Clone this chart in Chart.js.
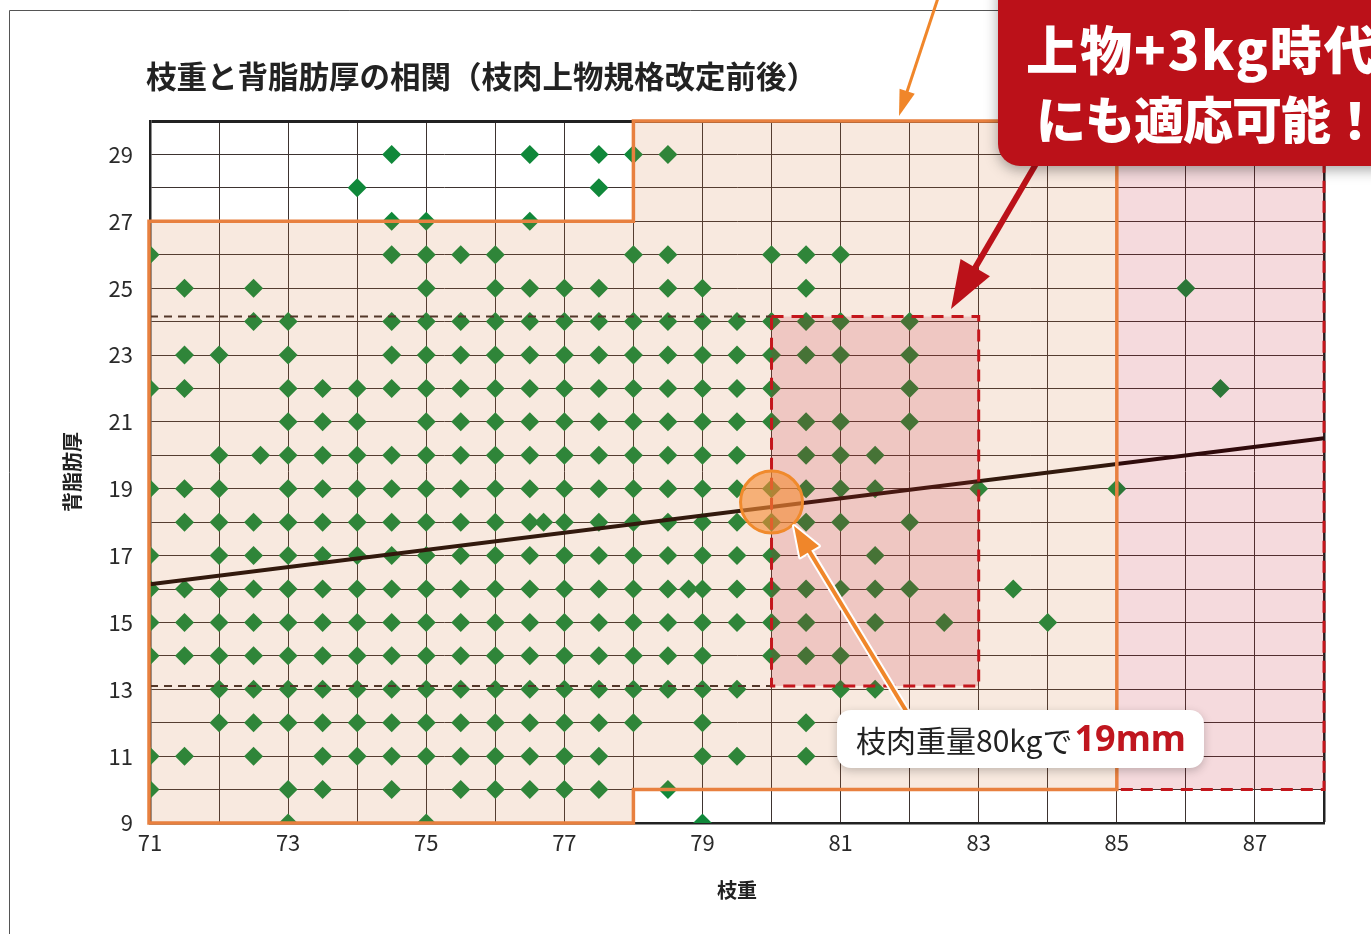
<!DOCTYPE html>
<html lang="ja">
<head>
<meta charset="utf-8">
<title>枝重と背脂肪厚の相関</title>
<script src="https://cdn.jsdelivr.net/npm/chart.js@4.4.1/dist/chart.umd.min.js"></script>
<style>
  html, body { margin: 0; padding: 0; background: #fff; }
  #wrap { width: 1371px; height: 934px; }
</style>
</head>
<body>
<div id="wrap"><canvas id="myChart" width="1371" height="934"></canvas></div>
<script>
// 背脂肪厚(mm)の段ごとに、その段にある枝重(kg)
const fatLevels = [29, 28, 27, 26, 25, 24, 23, 22, 21, 20, 19, 18, 17, 16, 15, 14, 13, 12, 11, 10, 9];
const weightsByLevel = [
  [74.5, 76.5, 77.5, 78, 78.5],
  [74, 77.5],
  [74.5, 75, 76.5],
  [71, 74.5, 75, 75.5, 76, 78, 78.5, 80, 80.5, 81],
  [71.5, 72.5, 75, 76, 76.5, 77, 77.5, 78.5, 79, 80.5, 86],
  [72.5, 73, 74.5, 75, 75.5, 76, 76.5, 77, 77.5, 78, 78.5, 79, 79.5, 80, 80.5, 81, 82],
  [71.5, 72, 73, 74.5, 75, 75.5, 76, 76.5, 77, 77.5, 78, 78.5, 79, 79.5, 80, 80.5, 81, 82],
  [71, 71.5, 73, 73.5, 74, 74.5, 75, 75.5, 76, 76.5, 77, 77.5, 78, 78.5, 79, 79.5, 80, 82, 86.5],
  [73, 73.5, 74, 75, 75.5, 76, 76.5, 77, 77.5, 78, 78.5, 79, 79.5, 80, 80.5, 81, 82],
  [72, 72.6, 73, 73.5, 74, 74.5, 75, 75.5, 76, 76.5, 77, 77.5, 78, 78.5, 79, 79.5, 80.5, 81, 81.5],
  [71, 71.5, 72, 73, 73.5, 74, 74.5, 75, 75.5, 76, 76.5, 77, 77.5, 78, 78.5, 79, 79.5, 80, 80.5, 81, 81.5, 83, 85],
  [71.5, 72, 72.5, 73, 73.5, 74, 74.5, 75, 75.5, 76, 76.5, 76.7, 77, 77.5, 78, 78.5, 79, 79.5, 80, 80.5, 81, 82],
  [71, 72, 72.5, 73, 73.5, 74, 74.5, 75, 75.5, 76, 76.5, 77, 77.5, 78, 78.5, 79, 79.5, 80, 81.5],
  [71, 71.5, 72, 72.5, 73, 73.5, 74, 74.5, 75, 75.5, 76, 76.5, 77, 77.5, 78, 78.5, 78.8, 79, 79.5, 80, 80.5, 81, 81.5, 82, 83.5],
  [71, 71.5, 72, 72.5, 73, 73.5, 74, 74.5, 75, 75.5, 76, 76.5, 77, 77.5, 78, 78.5, 79, 79.5, 80, 80.5, 81.5, 82.5, 84],
  [71, 71.5, 72, 72.5, 73, 73.5, 74, 74.5, 75, 75.5, 76, 76.5, 77, 77.5, 78, 78.5, 79, 80, 80.5, 81],
  [72, 72.5, 73, 73.5, 74, 74.5, 75, 75.5, 76, 76.5, 77, 77.5, 78, 78.5, 79, 79.5, 81, 81.5],
  [72, 72.5, 73, 73.5, 74, 74.5, 75, 75.5, 76, 76.5, 77, 77.5, 78, 79, 80.5],
  [71, 71.5, 72.5, 73.5, 74, 74.5, 75, 75.5, 76, 76.5, 77, 77.5, 79, 79.5, 80.5],
  [71, 73, 73.5, 74.5, 75.5, 76, 76.5, 77, 77.5, 78.5],
  [73, 75, 79]
];

// 回帰直線
const trendX = [71, 88];
const trendY = [16.14, 20.51];

// 改定前の背脂肪厚の上下限(破線)
const limitX = [71, 80];
const limitUpper = 24.15;
const limitLower = 13.1;

// 改定前の上物の範囲(オレンジ枠)
const oldZoneX = [71, 71, 78, 78, 85, 85, 78, 78];
const oldZoneY = [9, 27, 27, 30, 30, 10, 10, 9];
// +3kg の範囲
const heavyZoneX = [85, 88];
const heavyZoneY = [10, 30];
// 80kg 以上の範囲(赤破線)
const newZoneX = [80, 83];
const newZoneY = [limitLower, limitUpper];

const markX = 80;
const markY = 18.6;

const xLabels = [71, 73, 75, 77, 79, 81, 83, 85, 87];
const yLabels = [9, 11, 13, 15, 17, 19, 21, 23, 25, 27, 29];

let points = [];
for (let i = 0; i < fatLevels.length; i++) {
  weightsByLevel[i].forEach(w => points.push({x: w, y: fatLevels[i]}));
}

function drawArrow(ctx, x1, y1, x2, y2, headLen, headW, color, lw, outline) {
  const a = Math.atan2(y2 - y1, x2 - x1);
  const bx = x2 - Math.cos(a) * headLen, by = y2 - Math.sin(a) * headLen;
  const head = () => {
    ctx.beginPath();
    ctx.moveTo(x2, y2);
    ctx.lineTo(bx + Math.sin(a) * headW, by - Math.cos(a) * headW);
    ctx.lineTo(bx - Math.sin(a) * headW, by + Math.cos(a) * headW);
    ctx.closePath();
  };
  const shaft = () => {
    ctx.beginPath();
    ctx.moveTo(x1, y1);
    ctx.lineTo(bx + Math.cos(a) * 2, by + Math.sin(a) * 2);
  };
  ctx.save();
  ctx.lineJoin = 'round';
  if (outline) {
    ctx.strokeStyle = outline;
    ctx.lineWidth = lw + 4;
    shaft(); ctx.stroke();
    ctx.lineWidth = 4;
    head(); ctx.stroke();
  }
  ctx.strokeStyle = color;
  ctx.fillStyle = color;
  ctx.lineWidth = lw;
  shaft(); ctx.stroke();
  head(); ctx.fill();
  ctx.restore();
}

const decorations = {
  id: 'decorations',
  beforeDraw(chart) {
    const ctx = chart.ctx;
    ctx.save();
    ctx.strokeStyle = '#555';
    ctx.lineWidth = 1;
    ctx.beginPath();
    ctx.moveTo(9.5, 934);
    ctx.lineTo(9.5, 10.5);
    ctx.lineTo(1371, 10.5);
    ctx.stroke();
    ctx.restore();
  },
  afterDatasetsDraw(chart) {
    const {ctx, scales: {x, y}} = chart;
    const px = v => x.getPixelForValue(v);
    const py = v => y.getPixelForValue(v);
    ctx.save();
    // 改定前の範囲
    ctx.beginPath();
    oldZoneX.forEach((v, i) => {
      if (i === 0) ctx.moveTo(px(v), py(oldZoneY[i]));
      else ctx.lineTo(px(v), py(oldZoneY[i]));
    });
    ctx.closePath();
    ctx.fillStyle = 'rgba(211,116,59,0.16)';
    ctx.fill();
    // +3kg
    ctx.fillStyle = 'rgba(191,24,41,0.16)';
    ctx.fillRect(px(heavyZoneX[0]), py(heavyZoneY[1]), px(heavyZoneX[1]) - px(heavyZoneX[0]), py(heavyZoneY[0]) - py(heavyZoneY[1]));
    // 80kg 以上
    ctx.fillRect(px(newZoneX[0]), py(newZoneY[1]), px(newZoneX[1]) - px(newZoneX[0]), py(newZoneY[0]) - py(newZoneY[1]));

    // オレンジ枠
    ctx.beginPath();
    oldZoneX.forEach((v, i) => {
      if (i === 0) ctx.moveTo(px(v) - 1, py(oldZoneY[i]));
      else ctx.lineTo(px(v) - (v === 71 ? 1 : 0), py(oldZoneY[i]));
    });
    ctx.closePath();
    ctx.strokeStyle = '#e8803f';
    ctx.lineWidth = 3.5;
    ctx.stroke();

    // 赤破線
    ctx.strokeStyle = '#c4161c';
    ctx.lineWidth = 3;
    ctx.setLineDash([12, 8]);
    ctx.beginPath();
    ctx.moveTo(px(heavyZoneX[0]) + 4, py(heavyZoneY[0]));
    ctx.lineTo(px(heavyZoneX[1]), py(heavyZoneY[0]));
    ctx.lineTo(px(heavyZoneX[1]), py(heavyZoneY[1]));
    ctx.stroke();
    ctx.beginPath();
    ctx.rect(px(newZoneX[0]), py(newZoneY[1]), px(newZoneX[1]) - px(newZoneX[0]), py(newZoneY[0]) - py(newZoneY[1]));
    ctx.stroke();
    ctx.setLineDash([]);

    // 80kg の印
    ctx.beginPath();
    ctx.arc(px(markX), py(markY), 31, 0, Math.PI * 2);
    ctx.fillStyle = 'rgba(244,140,55,0.62)';
    ctx.fill();
    ctx.strokeStyle = '#f08a2c';
    ctx.lineWidth = 3;
    ctx.stroke();
    ctx.restore();
  },
  afterDraw(chart) {
    const ctx = chart.ctx;
    ctx.save();
    // タイトル
    ctx.font = 'bold 30.5px "Noto Sans CJK JP"';
    ctx.fillStyle = '#222';
    ctx.textBaseline = 'middle';
    ctx.fillText('枝重と背脂肪厚の相関（枝肉上物規格改定前後）', 146, 76);

    // 上部のオレンジ矢印
    drawArrow(ctx, 938, -2, 899, 116, 26, 8, '#f0862a', 3);

    // 吹き出し用の矢印
    drawArrow(ctx, 1050, 140, 951, 309, 48, 17, '#bb1119', 6);

    // ラベルの矢印
    drawArrow(ctx, 908, 714, 794, 526, 30, 11, '#f0862a', 4, '#fff');

    // ラベル
    ctx.save();
    ctx.shadowColor = 'rgba(0,0,0,0.22)';
    ctx.shadowBlur = 10;
    ctx.shadowOffsetY = 3;
    ctx.fillStyle = '#fff';
    ctx.beginPath();
    ctx.roundRect(837, 710, 367, 58, 14);
    ctx.fill();
    ctx.restore();
    ctx.font = '30px "Noto Sans CJK JP"';
    ctx.fillStyle = '#222';
    ctx.textBaseline = 'middle';
    ctx.fillText('枝肉重量80kgで', 856, 741);
    const w = ctx.measureText('枝肉重量80kgで').width;
    ctx.font = 'bold 36px "Noto Sans"';
    ctx.fillStyle = '#c0161f';
    ctx.fillText('19mm', 856 + w + 2, 741);

    // 赤い吹き出し
    ctx.save();
    ctx.shadowColor = 'rgba(0,0,0,0.35)';
    ctx.shadowBlur = 14;
    ctx.shadowOffsetY = 4;
    ctx.fillStyle = '#bb1119';
    ctx.beginPath();
    ctx.roundRect(998, -30, 420, 196, 22);
    ctx.fill();
    ctx.restore();
    ctx.fillStyle = '#fff';
    ctx.textBaseline = 'middle';
    ctx.font = '900 52px "Noto Sans CJK JP"';
    ctx.letterSpacing = '2px';
    ctx.fillText('上物+3kg時代', 1026, 50);
    ctx.font = '900 50px "Noto Sans CJK JP"';
    ctx.letterSpacing = '-1px';
    ctx.fillText('にも適応可能！', 1036, 120);
    ctx.restore();
  }
};

const ctx = document.getElementById('myChart').getContext('2d');
Chart.defaults.font.family = '"Noto Sans CJK JP", "Noto Sans", sans-serif';
Chart.defaults.color = '#2a2a2a';

new Chart(ctx, {
  type: 'scatter',
  data: {
    datasets: [
      {
        type: 'line',
        data: trendX.map((v, i) => ({x: v, y: trendY[i]})),
        borderColor: '#140805',
        borderWidth: 4,
        pointRadius: 0,
        clip: 0
      },
      {
        type: 'line',
        data: limitX.map(v => ({x: v, y: limitUpper})),
        borderColor: '#3b2b27',
        borderWidth: 2,
        borderDash: [8, 6],
        pointRadius: 0
      },
      {
        type: 'line',
        data: limitX.map(v => ({x: v, y: limitLower})),
        borderColor: '#3b2b27',
        borderWidth: 2,
        borderDash: [8, 6],
        pointRadius: 0
      },
      {
        label: '枝重と背脂肪厚',
        data: points,
        pointStyle: 'rectRot',
        pointRadius: 9.5,
        pointHoverRadius: 9.5,
        backgroundColor: '#10883a',
        borderWidth: 0,
        clip: 0
      }
    ]
  },
  options: {
    responsive: false,
    animation: false,
    layout: {padding: {top: 121, right: 47, bottom: 0, left: 0}},
    plugins: {
      legend: {display: false},
      tooltip: {enabled: false}
    },
    scales: {
      x: {
        type: 'linear',
        min: 71,
        max: 88,
        afterFit: s => { s.height = 111; },
        ticks: {
          stepSize: 1,
          autoSkip: false,
          maxRotation: 0,
          padding: 6,
          font: {size: 22},
          callback: v => xLabels.includes(v) ? String(v) : ''
        },
        grid: {
          drawTicks: false,
          color: c => c.tick && c.tick.value === 88 ? '#222' : '#3d3330',
          lineWidth: c => c.tick && c.tick.value === 88 ? 2.5 : 1
        },
        border: {display: true, color: '#222', width: 2.5},
        title: {
          display: true,
          text: '枝重',
          font: {size: 20, weight: 'bold'},
          color: '#222',
          padding: {top: 0, bottom: 32}
        }
      },
      y: {
        type: 'linear',
        min: 9,
        max: 30,
        afterFit: s => { s.width = 150; },
        ticks: {
          stepSize: 1,
          autoSkip: false,
          padding: 17,
          font: {size: 22},
          callback: v => yLabels.includes(v) ? String(v) : ''
        },
        grid: {
          drawTicks: false,
          color: c => c.tick && c.tick.value === 30 ? '#222' : '#3d3330',
          lineWidth: c => c.tick && c.tick.value === 30 ? 3 : 1
        },
        border: {display: true, color: '#222', width: 2.5},
        title: {
          display: true,
          text: '背脂肪厚',
          font: {size: 20, weight: 'bold'},
          color: '#222',
          padding: {top: 60, bottom: 0}
        }
      }
    }
  },
  plugins: [decorations]
});
</script>
</body>
</html>
